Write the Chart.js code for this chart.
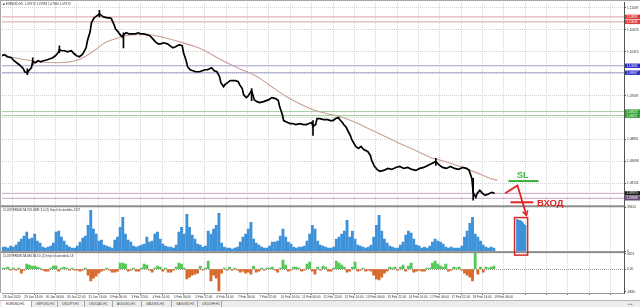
<!DOCTYPE html>
<html lang="ru"><head><meta charset="utf-8">
<title>EURUSD,H1</title>
<script src="https://cdn.jsdelivr.net/npm/chart.js@4.4.1/dist/chart.umd.min.js"></script>
<style>
html,body{margin:0;padding:0;background:#fff;overflow:hidden}
#wrap{position:relative;width:640px;height:307px;font-family:"Liberation Sans",Arial,sans-serif}
#c{position:absolute;left:0;top:0}
.lbl{position:absolute;white-space:nowrap;color:#333;font-size:3px;line-height:4px}
.ann{position:absolute;white-space:nowrap;font-weight:bold;font-family:"Liberation Sans",Arial,sans-serif}
#tabs{position:absolute;left:0;top:300px;width:640px;height:7px;background:#ececec;border-top:1px solid #b8b8b8;box-sizing:border-box}
.tab{position:absolute;top:0;height:6px;box-sizing:border-box;border-right:1px solid #a8a8a8;font-size:3.2px;line-height:6px;color:#444;padding-left:4px;white-space:nowrap}
</style></head><body>
<div id="wrap">
<canvas id="c" width="640" height="300"></canvas>
<div class="lbl" style="left:3px;top:2px">&#9632; EURUSD,H1 &nbsp;1.07975 1.07983 1.07960 1.07970</div>
<div class="lbl" style="left:3px;top:208px">CLUSTERDELTA VOLUME 3.0 (2) http://clusterdelta 1372</div>
<div class="lbl" style="left:3px;top:254px">CLUSTERDELTA DELTA 3.0 (2) http://clusterdelta 18</div>
<div class="ann" style="left:517px;top:170px;font-size:9px;line-height:10px;color:#3cb43c">SL</div>
<div class="ann" style="left:537px;top:197px;font-size:9.5px;line-height:11px;color:#e02020">ВХОД</div>
<div id="tabs">
<div class="tab" style="left:2px;width:30px;background:#fff;color:#222">EURUSD,H1</div>
<div class="tab" style="left:32px;width:26px">GBPUSD,H1</div>
<div class="tab" style="left:58px;width:27px">USDJPY,H1</div>
<div class="tab" style="left:85px;width:28px">USDCAD,H1</div>
<div class="tab" style="left:113px;width:29px">AUDUSD,H1</div>
<div class="tab" style="left:142px;width:30px">XAUUSD,H1</div>
<div class="tab" style="left:172px;width:26px">XAGUSD,H1</div>
<div class="tab" style="left:198px;width:24px">USDCHF,H1</div>
<div class="tab" style="left:626px;width:14px;border:none;padding-left:2px">&#9666; &#9656;</div>
</div>
</div>
<script>
// ---- data ----
const timeLabels = ["28 Jan 2020","29 Jan 14:00","30 Jan 06:00","30 Jan 22:00","31 Jan 14:00","3 Feb 06:00","3 Feb 22:00","4 Feb 14:00","5 Feb 06:00","5 Feb 22:00","6 Feb 14:00","7 Feb 06:00","7 Feb 22:00","10 Feb 14:00","11 Feb 06:00","11 Feb 22:00","12 Feb 14:00","13 Feb 06:00","13 Feb 22:00","14 Feb 14:00","17 Feb 06:00","17 Feb 22:00","18 Feb 14:00","19 Feb 06:00"];
const priceTicks = [1.11039,1.10858,1.10676,1.10495,1.10313,1.10132,1.09950,1.09769,1.09587,1.09406,1.09224,1.09043,1.08861,1.08680,1.08498,1.08317,1.08135,1.07954];
const priceBar = [0,2,4,7,9,11,13,16,17,19,20,22,23,25,27,29,31,34,36,38,40,42,43,45,47,49,52,54,56,58,60,61,63,64,66,67,69,70,72,73,75,76,79,81,82,84,85,87,88,90,91,93,95,97,100,102,104,106,109,111,113,115,117,119,121,124,126,128,130,133,135,136,138,139,141,143,145,148,150,152,154,157,159,161,163,164,166,167,169,171,173,175,177,178,180,181,183,184,186,187,189,191,193,196,198,200,202,205,207,208,210,211,214,216,218,220,223,226,228,230,232,233,235,236,238,241,244,246,248,250,252,253,255,256,258,259,261,262,265,267,269,271,274,276,277,279,281,283,286,289,292,295,298,301,304,307,310,313,316,319,322,325,327,330,333,336,339,342,345,348,350,352,353,355,356,358,360,362,364,367,369];
const priceClose = [1.10247,1.10264,1.10231,1.10214,1.10165,1.10132,1.10099,1.10033,1.09983,1.09967,
1.10000,1.10049,1.10148,1.10132,1.10165,1.10148,1.10165,1.10181,1.10198,1.10214,
1.10247,1.10297,1.10346,1.10330,1.10330,1.10313,1.10330,1.10280,1.10247,1.10231,
1.10264,1.10297,1.10379,1.10495,1.10643,1.10792,1.10874,1.10891,1.10924,1.10940,
1.10907,1.10891,1.10874,1.10874,1.10858,1.10759,1.10693,1.10643,1.10610,1.10561,
1.10594,1.10627,1.10610,1.10610,1.10610,1.10627,1.10610,1.10610,1.10594,1.10577,
1.10528,1.10478,1.10445,1.10445,1.10462,1.10445,1.10412,1.10379,1.10396,1.10429,
1.10412,1.10297,1.10165,1.10066,1.10016,1.10000,1.09983,1.09983,1.10000,1.10016,
1.10016,1.10049,1.10000,1.09983,1.09901,1.09802,1.09736,1.09769,1.09802,1.09835,
1.09835,1.09835,1.09818,1.09769,1.09703,1.09604,1.09554,1.09571,1.09637,1.09670,
1.09521,1.09488,1.09472,1.09488,1.09505,1.09521,1.09554,1.09538,1.09505,1.09406,
1.09274,1.09175,1.09142,1.09125,1.09125,1.09109,1.09125,1.09109,1.09109,1.09125,
1.09142,1.09076,1.09109,1.09208,1.09208,1.09191,1.09191,1.09175,1.09175,1.09208,
1.09224,1.09191,1.09142,1.09109,1.09059,1.09010,1.08927,1.08861,1.08746,1.08713,
1.08746,1.08696,1.08663,1.08597,1.08515,1.08416,1.08366,1.08333,1.08350,1.08383,
1.08366,1.08399,1.08416,1.08383,1.08399,1.08366,1.08350,1.08383,1.08399,1.08432,
1.08465,1.08498,1.08449,1.08399,1.08383,1.08416,1.08383,1.08366,1.08399,1.08383,
1.08350,1.08218,1.07987,1.07904,1.07970,1.08020,1.07970,1.07937,1.07954,1.07987,
1.07970];
const maBar = [0,13,28,43,55,62,70,77,85,92,100,111,122,133,145,152,160,167,178,190,201,212,223,235,246,253,265,276,287,298,310,321,332,343,355,364,371];
const maValue = [1.10264,1.10198,1.10148,1.10132,1.10165,1.10231,1.10346,1.10462,1.10528,1.10577,1.10594,1.10594,1.10544,1.10478,1.10396,1.10330,1.10231,1.10148,1.10033,1.09917,1.09752,1.09587,1.09455,1.09340,1.09274,1.09241,1.09142,1.09026,1.08911,1.08795,1.08680,1.08564,1.08498,1.08416,1.08317,1.08234,1.08185];
const wickBar = [19,23,43,73,91,187,233,325,353];
const wickLow = [1.09934,1.10099,1.10297,1.10891,1.10379,1.09505,1.08927,1.08432,1.07855];
const wickHigh = [1.10033,1.10214,1.10412,1.11000,1.10627,1.09703,1.09175,1.08548,1.08218];
const levelPrices = [1.10891,1.10808,1.10082,1.09967,1.09323,1.09257,1.07970,1.07888];
const volume = [3600,3600,2700,4500,3600,5400,8100,10800,13500,17100,
10800,11700,15300,9000,7200,3600,2700,3600,4500,7200,
17100,18000,12600,9000,5400,3600,2700,2700,4500,8100,
11700,13500,23400,36900,19800,15300,9000,9900,5400,4500,
3600,2700,9900,12600,21600,30600,15300,9900,8100,4500,
3600,4500,5400,6300,12600,8100,9000,15300,17100,10800,
6300,4500,3600,3600,2700,5400,17100,21600,15300,33300,
21600,14400,10800,6300,5400,3600,4500,18000,15300,19800,
23400,34200,7200,3600,2700,2700,1800,2700,3600,8100,
12600,15300,19800,26100,10800,7200,5400,3600,2700,2700,
4500,8100,8100,9000,13500,19800,12600,8100,6300,3600,
2700,3600,3600,4500,9000,15300,23400,19800,9000,5400,
4500,3600,2700,2700,3600,10800,12600,15300,18000,27900,
12600,18000,10800,5400,4500,3600,2700,3600,5400,12600,
23400,32400,18000,10800,7200,4500,3600,2700,2700,5400,
8100,14400,18000,16200,10800,5400,4500,2700,3600,2700,
4500,8100,10800,9000,8100,6300,3600,2700,3600,2700,
2700,2700,4500,12600,18000,25200,30600,15300,12600,9000,
5400,3600,2700,3600,2700];
const delta = [300,300,600,-300,300,-300,300,-1200,-300,1500,
1200,900,900,600,300,-300,-600,-600,300,900,
900,-600,300,600,300,-300,300,-300,-300,-600,
-300,300,-1800,-3600,-2700,-2100,-1200,-600,-300,300,
-300,-900,-900,-600,1800,1800,1500,-600,-300,300,
-600,-600,300,1500,1200,-300,-900,300,900,600,
-600,300,-900,-900,-300,600,1800,1500,300,-3000,
-2400,-1800,-1500,-1200,900,-300,300,2400,-3600,-1800,
-2700,-6600,-1200,300,-300,600,-300,300,-300,-900,
-600,-1200,-900,-1500,900,-900,-600,300,-300,300,
300,600,-300,-900,300,2700,1200,-600,-300,600,
600,300,-600,-300,1500,2100,-600,-1500,600,-300,
900,600,-600,-600,300,2400,1800,1200,600,-900,
-600,600,2100,-600,-300,300,-600,-300,-600,-1800,
-3000,-3300,-2400,-1200,-600,600,300,600,-300,600,
1200,-600,900,1800,-900,-600,-300,-600,-600,300,
300,1800,2400,1500,900,600,1500,-600,-300,600,
300,600,-300,-1200,-1800,-2400,-3600,4800,-1500,600,
-900,600,300,600,900];
const volumeTicks = [0,39624];
const deltaTicks = [4553,0,-6830];
const entryBar = [386,387,388,389,390,391,392];
const entryVolume = [28800,27900,27900,27000,26100,24300,23400];
const slPrice = 1.08173, slBars = [379.5,402];
const entryPrice = 1.07822, entryBars = [381,398];
const arrowBars = [377,386.2,392.9], arrowPrices = [1.07970,1.08102], arrowVolume = 32400;
const boxBars = [384,393.8], boxVolume = [30330,-3600];

// ---- styles ----
const levelColor = ['#d9a3a3','#d9a3a3','#a3a3d6','#a3a3d6','#9fcc9f','#9fcc9f','#c6a6c6','#c6a6c6'];
const boxColor = ['#e03c3c','#e03c3c','#2a2acc','#2a2acc','#2f9f2f','#2f9f2f','#1e1e1e','#6a4a7a'];
const FONT = {size:3.2, family:'"Liberation Sans", Arial, sans-serif'};

const overlay = {
  id:'overlay',
  afterDraw(c){
    const {ctx, chartArea:a} = c;
    const x=c.scales.x, y=c.scales.y, yv=c.scales.yv;
    ctx.save();
    ctx.fillStyle='#8c8c8c';
    ctx.fillRect(0, y.bottom-1, a.right, 2);
    ctx.fillRect(0, yv.bottom-1, a.right, 2);
    ctx.fillStyle='#a6a6a6';
    ctx.fillRect(0,0,640,1);
    ctx.fillRect(0,0,1,a.bottom);
    ctx.font='3px "Liberation Sans", Arial';
    ctx.textBaseline='middle';
    levelPrices.forEach((p,i)=>{
      const py=y.getPixelForValue(p);
      ctx.fillStyle=boxColor[i];
      ctx.fillRect(a.right+1, py-2.2, 15, 4.4);
      ctx.fillStyle='#fff';
      ctx.fillText(p.toFixed(5), a.right+2.5, py+0.2);
    });
    const line=(pts,color,w)=>{ctx.strokeStyle=color;ctx.lineWidth=w;ctx.lineJoin='miter';ctx.beginPath();pts.forEach((p,i)=>i?ctx.lineTo(p[0],p[1]):ctx.moveTo(p[0],p[1]));ctx.stroke();};
    line([[x.getPixelForValue(slBars[0]),y.getPixelForValue(slPrice)],[x.getPixelForValue(slBars[1]),y.getPixelForValue(slPrice)]],'#35b035',2);
    line([[x.getPixelForValue(entryBars[0]),y.getPixelForValue(entryPrice)],[x.getPixelForValue(entryBars[1]),y.getPixelForValue(entryPrice)]],'#e02424',2);
    const p0=[x.getPixelForValue(arrowBars[0]),y.getPixelForValue(arrowPrices[0])];
    const p1=[x.getPixelForValue(arrowBars[1]),y.getPixelForValue(arrowPrices[1])];
    const p2=[x.getPixelForValue(arrowBars[2]),yv.getPixelForValue(arrowVolume)];
    line([p0,p1,p2],'#e02424',1.8);
    const ang=Math.atan2(p2[1]-p1[1],p2[0]-p1[0]);
    const L=5;
    line([[p2[0]-L*Math.cos(ang-0.55),p2[1]-L*Math.sin(ang-0.55)],p2,[p2[0]-L*Math.cos(ang+0.55),p2[1]-L*Math.sin(ang+0.55)]],'#e02424',1.6);
    const bx0=x.getPixelForValue(boxBars[0]), bx1=x.getPixelForValue(boxBars[1]);
    const by0=yv.getPixelForValue(boxVolume[0]), by1=yv.getPixelForValue(boxVolume[1]);
    ctx.strokeStyle='#d42a2a'; ctx.lineWidth=1.5;
    ctx.strokeRect(bx0,by0,bx1-bx0,by1-by0);
    ctx.restore();
  }
};

const datasets = [
  {type:'line', label:'EURUSD', order:0, yAxisID:'y', data:priceBar.map((b,i)=>({x:b,y:priceClose[i]})), borderColor:'#000', borderWidth:1.7, pointRadius:0, tension:0},
  {type:'bar', label:'wicks', order:0, yAxisID:'y', grouped:false, data:wickBar.map((b,i)=>({x:b,y:[wickLow[i],wickHigh[i]]})), backgroundColor:'#000', barThickness:1},
  {type:'line', label:'MA', order:1, yAxisID:'y', data:maBar.map((b,i)=>({x:b,y:maValue[i]})), borderColor:'#c9a194', borderWidth:1.1, pointRadius:0, tension:0.35}
];
levelPrices.forEach((p,i)=>datasets.push({type:'line', label:'level'+i, order:2, yAxisID:'y', data:[{x:0,y:p},{x:466,y:p}], borderColor:levelColor[i], borderWidth:1, pointRadius:0}));
datasets.push({type:'bar', label:'volume', order:3, yAxisID:'yv', grouped:false, data:volume.map((v,i)=>({x:i*2+0.5,y:v})), backgroundColor:'#3d91d9', barThickness:2.2});
datasets.push({type:'bar', label:'entry', order:3, yAxisID:'yv', grouped:false, data:entryBar.map((b,i)=>({x:b,y:entryVolume[i]})), backgroundColor:'#3d91d9', barThickness:1.5});
datasets.push({type:'bar', label:'delta', order:3, yAxisID:'yd', grouped:false, data:delta.map((v,i)=>({x:i*2+0.5,y:v})), backgroundColor:ctx=>delta[ctx.dataIndex]>=0?'#55c855':'#d8692c', barThickness:2.2});

new Chart(document.getElementById('c'), {
  type:'line',
  data:{datasets},
  options:{
    responsive:false, animation:false, devicePixelRatio:1, events:[],
    layout:{padding:{left:2,top:2,right:0,bottom:0}},
    plugins:{legend:{display:false},tooltip:{enabled:false},title:{display:false}},
    scales:{
      x:{type:'linear', position:'bottom', min:0, max:466, offset:false,
        afterFit(s){s.height=7;},
        afterBuildTicks(s){const t=[];for(let b=0;b<=464;b+=16)t.push({value:b});s.ticks=t;},
        ticks:{autoSkip:false, maxRotation:0, minRotation:0, align:'start', labelOffset:1, padding:0, font:FONT, color:'#333', callback:(v,i)=>timeLabels[i]??''},
        grid:{color:'#d2d2d2', lineWidth:1, tickLength:2, tickColor:'#777'},
        border:{display:true, color:'#9a9a9a', dash:[1,1]}
      },
      y:{position:'right', stack:'pane', stackWeight:204, min:1.07756, max:1.11122,
        afterFit(s){s.width=16;},
        afterBuildTicks(s){s.ticks=priceTicks.map(v=>({value:v}));},
        ticks:{padding:1, font:FONT, color:'#333', callback:v=>Number(v).toFixed(5)},
        grid:{color:'#d2d2d2', tickLength:2, tickColor:'#555'},
        border:{color:'#555', dash:[1,1]}
      },
      yv:{position:'right', stack:'pane', stackWeight:46, min:-900, max:40500,
        afterFit(s){s.width=16;},
        afterBuildTicks(s){s.ticks=volumeTicks.map(v=>({value:v}));},
        ticks:{padding:1, font:FONT, color:'#333', callback:v=>String(v)},
        grid:{drawOnChartArea:false, tickLength:2, tickColor:'#555'},
        border:{color:'#555'}
      },
      yd:{position:'right', stack:'pane', stackWeight:41, min:-7200, max:5100,
        afterFit(s){s.width=16;},
        afterBuildTicks(s){s.ticks=deltaTicks.map(v=>({value:v}));},
        ticks:{padding:1, font:FONT, color:'#333', callback:v=>v===0?'0.00':String(v)},
        grid:{color:ctx=>(ctx.tick&&ctx.tick.value===0)?'#9a9a9a':'rgba(0,0,0,0)', tickLength:2, tickColor:'#555'},
        border:{color:'#555', dash:[1,1]}
      }
    }
  },
  plugins:[overlay]
});
</script>
</body></html>
